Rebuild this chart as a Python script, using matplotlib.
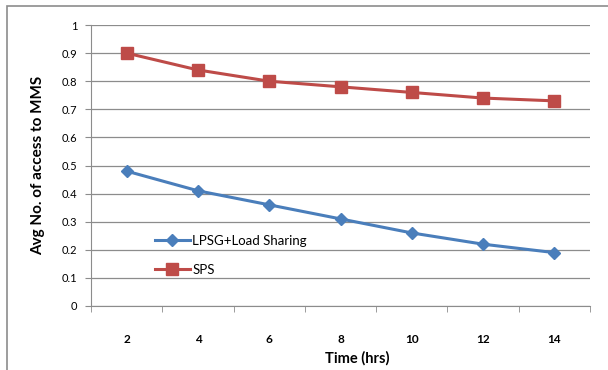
import matplotlib.pyplot as plt
import matplotlib.patches as patches
import numpy as np

# data
hours = [2, 4, 6, 8, 10, 12, 14]
lpsg = [0.48, 0.41, 0.36, 0.31, 0.26, 0.22, 0.19]
sps = [0.90, 0.84, 0.80, 0.78, 0.76, 0.74, 0.73]
y_ticks = [0, 0.1, 0.2, 0.3, 0.4, 0.5, 0.6, 0.7, 0.8, 0.9, 1]
y_labels = ['0', '0.1', '0.2', '0.3', '0.4', '0.5', '0.6', '0.7', '0.8', '0.9', '1']

plt.rcParams['font.family'] = ['Lato', 'DejaVu Sans']

W, H = 608, 370
fig = plt.figure(figsize=(W / 100, H / 100), dpi=100)
fig.patch.set_facecolor('white')

# chart border (Excel chart frame)
frame = patches.Rectangle((7 / W, -0.1), 1.2, 1 - 6 / H + 0.1, transform=fig.transFigure,
                          fill=False, edgecolor='#8c8c8c', linewidth=1.2)
fig.patches.append(frame)

ax = fig.add_axes([91 / W, 1 - 306 / H, (590 - 91) / W, (306 - 25) / H])

x = np.arange(len(hours))
ax.plot(x, lpsg, color='#4A7EBB', linewidth=2.2, marker='D', markersize=6.5,
        label='LPSG+Load Sharing')
ax.plot(x, sps, color='#BE4B48', linewidth=2.2, marker='s', markersize=8.5,
        label='SPS')

ax.set_xlim(-0.5, len(hours) - 0.5)
ax.set_ylim(0, 1)
ax.set_yticks(y_ticks)
ax.set_yticklabels(y_labels, fontsize=8)
ax.set_xticks(x)
ax.set_xticklabels([str(h) for h in hours], fontsize=8.5, fontweight='bold')
ax.set_xticks(np.arange(len(hours) + 1) - 0.5, minor=True)
ax.tick_params(axis='x', which='major', length=0, pad=20)
ax.tick_params(axis='x', which='minor', length=4, color='#8c8c8c', direction='out')
ax.tick_params(axis='y', length=4, color='#8c8c8c', direction='out', pad=6)

ax.grid(axis='y', color='#8c8c8c', linewidth=0.9)
ax.set_axisbelow(True)
for s in ['top', 'right']:
    ax.spines[s].set_visible(False)
ax.spines['left'].set_color('#8c8c8c')
ax.spines['bottom'].set_color('#8c8c8c')

ax.set_xlabel('Time (hrs)', fontsize=10.5, fontweight='bold')
ax.xaxis.set_label_coords(0.533, -0.16)
ax.set_ylabel('Avg No. of access to MMS', fontsize=11, fontweight='bold', labelpad=12)

ax.legend(loc='lower left', bbox_to_anchor=(0.105, 0.065), frameon=False, fontsize=9.5,
          handlelength=2.6, labelspacing=1.3, handletextpad=0.2)

fig.savefig('out.png', dpi=100)
